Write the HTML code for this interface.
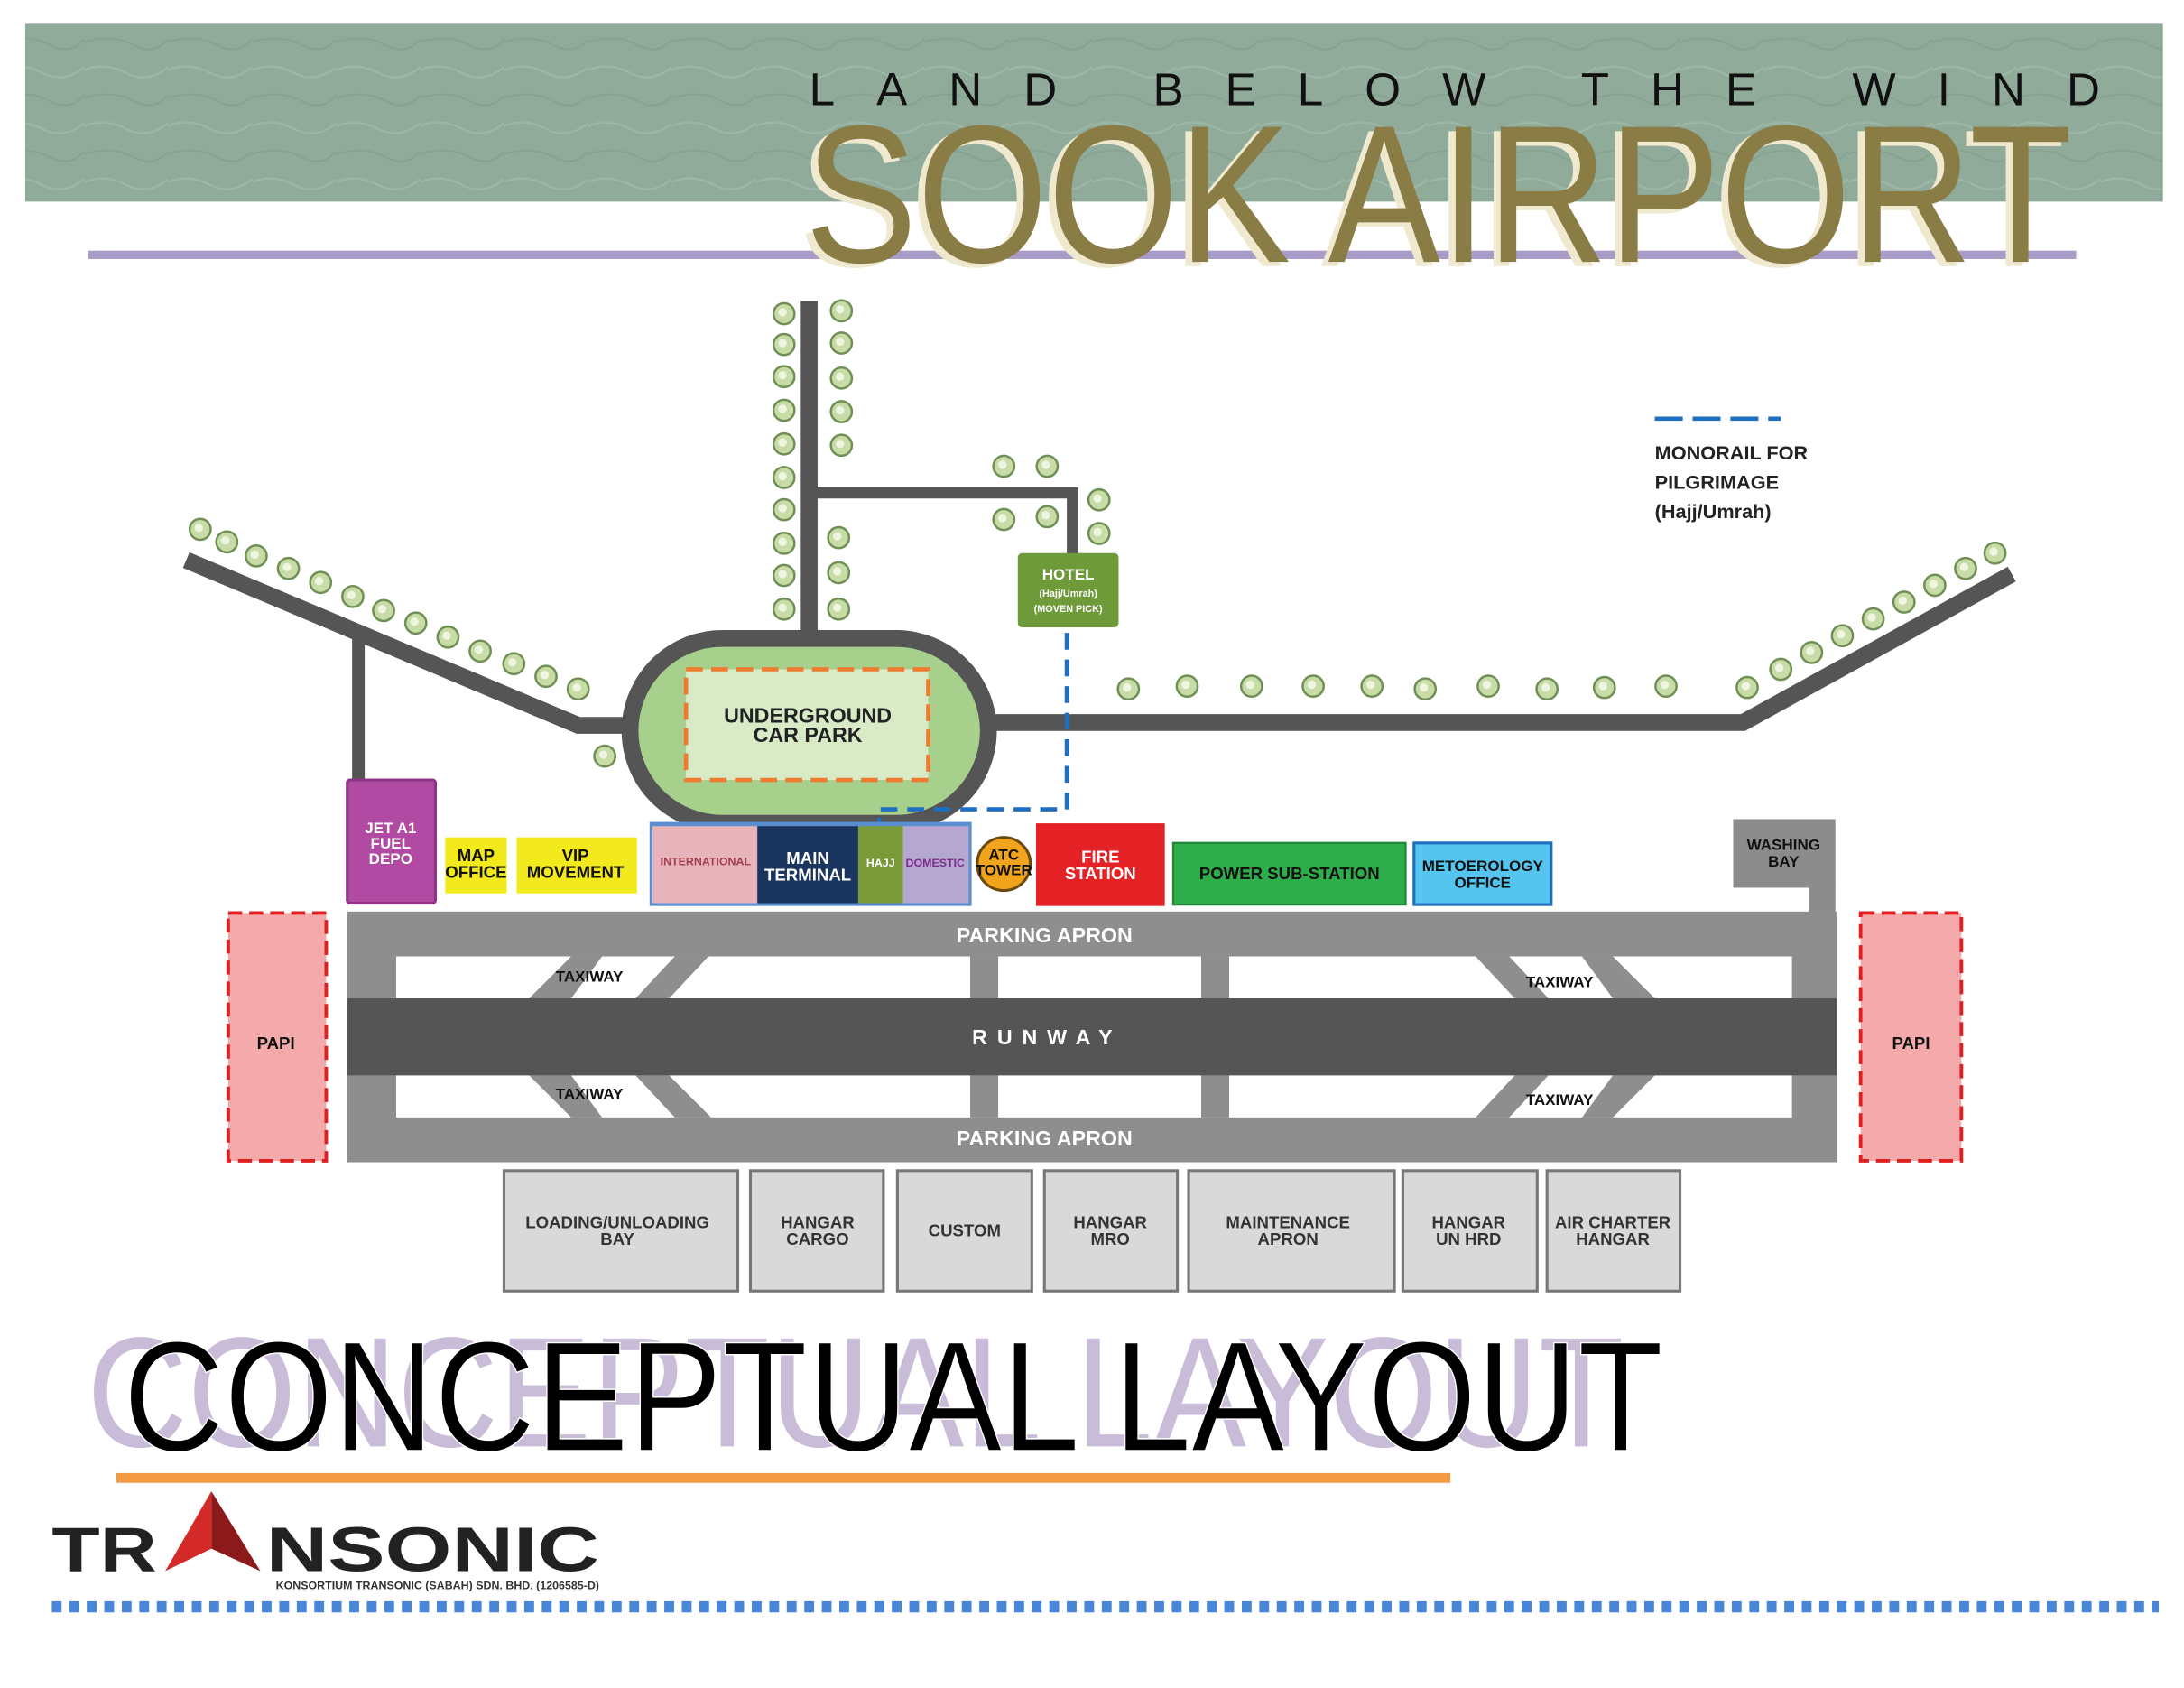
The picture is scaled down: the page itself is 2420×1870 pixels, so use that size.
<!DOCTYPE html>
<html><head><meta charset="utf-8"><style>
html,body{margin:0;padding:0;background:#fff;}
svg{display:block;}
text{font-family:"Liberation Sans",sans-serif;}
.b{font-weight:bold;}
</style></head><body>
<svg width="2420" height="1870" viewBox="0 0 1560 1205.5" preserveAspectRatio="none" xmlns="http://www.w3.org/2000/svg">
<defs>
<g id="tr"><circle r="7.5" fill="#c8dca8" stroke="#6f8f55" stroke-width="1.6"/><circle r="3" cx="-1" cy="-1" fill="#eef5e0"/></g>
<pattern id="tex" width="60" height="40" patternUnits="userSpaceOnUse">
<rect width="60" height="40" fill="#91ab9b"/>
<path d="M0 10 Q15 4 30 12 T60 8" stroke="#9db7a6" stroke-width="1.5" fill="none"/>
<path d="M0 30 Q20 24 35 32 T60 28" stroke="#88a292" stroke-width="1.2" fill="none"/>
</pattern>
</defs>

<!-- header -->
<rect x="18" y="17" width="1527" height="127" fill="url(#tex)"/>
<text x="578" y="75" font-size="33" fill="#111" textLength="922" lengthAdjust="spacing">LAND BELOW THE WIND</text>
<rect x="63" y="179" width="1420" height="6" fill="#a99cc8"/>
<text x="570" y="190" font-size="140" fill="#efe9cf" textLength="905" lengthAdjust="spacingAndGlyphs">SOOK AIRPORT</text>
<text x="575" y="187" font-size="140" fill="#8a7c45" textLength="905" lengthAdjust="spacingAndGlyphs">SOOK AIRPORT</text>

<!-- roads -->
<g stroke="#555" stroke-width="12" fill="none">
<line x1="578" y1="215" x2="578" y2="462"/>
<polyline points="578,352 766,352 766,397" stroke-width="8"/>
<polyline points="133,400 413,518 460,518"/>
<line x1="256" y1="455" x2="256" y2="560" stroke-width="9"/>
<polyline points="700,516 1245,516 1437,410"/>
</g>
<!-- trees -->
<g>
<use href="#tr" x="560" y="224"/><use href="#tr" x="560" y="246"/><use href="#tr" x="560" y="269"/><use href="#tr" x="560" y="293"/><use href="#tr" x="560" y="317"/><use href="#tr" x="560" y="341"/><use href="#tr" x="560" y="364"/><use href="#tr" x="560" y="388"/><use href="#tr" x="560" y="411"/><use href="#tr" x="560" y="435"/>
<use href="#tr" x="601" y="222"/><use href="#tr" x="601" y="245"/><use href="#tr" x="601" y="270"/><use href="#tr" x="601" y="294"/><use href="#tr" x="601" y="318"/><use href="#tr" x="599" y="384"/><use href="#tr" x="599" y="409"/><use href="#tr" x="599" y="435"/>
<use href="#tr" x="717" y="333"/><use href="#tr" x="748" y="333"/><use href="#tr" x="785" y="357"/><use href="#tr" x="785" y="381"/><use href="#tr" x="717" y="371"/><use href="#tr" x="748" y="369"/>
<use href="#tr" x="143" y="378"/><use href="#tr" x="162" y="387"/><use href="#tr" x="183" y="397"/><use href="#tr" x="206" y="406"/><use href="#tr" x="229" y="416"/><use href="#tr" x="252" y="426"/><use href="#tr" x="274" y="436"/><use href="#tr" x="297" y="445"/><use href="#tr" x="320" y="455"/><use href="#tr" x="343" y="465"/><use href="#tr" x="367" y="474"/><use href="#tr" x="390" y="483"/><use href="#tr" x="413" y="492"/>
<use href="#tr" x="432" y="540"/>
<use href="#tr" x="806" y="492"/><use href="#tr" x="848" y="490"/><use href="#tr" x="894" y="490"/><use href="#tr" x="938" y="490"/><use href="#tr" x="980" y="490"/><use href="#tr" x="1018" y="492"/><use href="#tr" x="1063" y="490"/><use href="#tr" x="1105" y="492"/><use href="#tr" x="1146" y="491"/><use href="#tr" x="1190" y="490"/>
<use href="#tr" x="1248" y="491"/><use href="#tr" x="1272" y="478"/><use href="#tr" x="1294" y="466"/><use href="#tr" x="1316" y="454"/><use href="#tr" x="1338" y="442"/><use href="#tr" x="1360" y="430"/><use href="#tr" x="1382" y="418"/><use href="#tr" x="1404" y="406"/><use href="#tr" x="1425" y="395"/>
</g>

<!-- hotel -->
<rect x="727" y="395" width="72" height="53" rx="3" fill="#6f9a3a"/>
<text x="763" y="414" font-size="11" fill="#fff" class="b" text-anchor="middle">HOTEL</text>
<text x="763" y="426" font-size="7" fill="#fff" class="b" text-anchor="middle">(Hajj/Umrah)</text>
<text x="763" y="437" font-size="7" fill="#fff" class="b" text-anchor="middle">(MOVEN PICK)</text>

<!-- oval car park -->
<rect x="450" y="456" width="256" height="132" rx="66" fill="#a7d08c" stroke="#555" stroke-width="12"/>
<rect x="490" y="478" width="173" height="79" fill="#d8ebc6" stroke="#ee7b2f" stroke-width="3" stroke-dasharray="12 6"/>
<text x="577" y="516" font-size="15" class="b" fill="#222" text-anchor="middle">UNDERGROUND</text>
<text x="577" y="530" font-size="15" class="b" fill="#222" text-anchor="middle">CAR PARK</text>

<!-- monorail -->
<polyline points="762,452 762,578 628,578 628,598" fill="none" stroke="#1e6fc0" stroke-width="3" stroke-dasharray="12 7"/>
<line x1="1182" y1="299" x2="1272" y2="299" stroke="#1e6fc0" stroke-width="3" stroke-dasharray="20 7"/>
<text x="1182" y="328" font-size="14" class="b" fill="#222">MONORAIL FOR</text>
<text x="1182" y="349" font-size="14" class="b" fill="#222">PILGRIMAGE</text>
<text x="1182" y="370" font-size="14" class="b" fill="#222">(Hajj/Umrah)</text>

<!-- buildings row -->
<rect x="248" y="557" width="63" height="88" rx="2" fill="#b04aa2" stroke="#8d3582" stroke-width="2"/>
<g font-size="11" class="b" fill="#fff" text-anchor="middle"><text x="279" y="595">JET A1</text><text x="279" y="606">FUEL</text><text x="279" y="617">DEPO</text></g>
<rect x="318" y="598" width="44" height="40" fill="#f2ea1c"/>
<rect x="369" y="598" width="86" height="40" fill="#f2ea1c"/>
<g font-size="12" class="b" fill="#111" text-anchor="middle"><text x="340" y="615">MAP</text><text x="340" y="627">OFFICE</text><text x="411" y="615">VIP</text><text x="411" y="627">MOVEMENT</text></g>
<rect x="464" y="587" width="230" height="60" fill="#5b8ed0"/>
<rect x="466" y="590" width="75" height="55" fill="#e8b4bc"/>
<rect x="541" y="590" width="72" height="55" fill="#1a3560"/>
<rect x="613" y="590" width="32" height="55" fill="#7a9a3a"/>
<rect x="645" y="590" width="47" height="55" fill="#b5a8d0"/>
<text x="504" y="618" font-size="8" class="b" fill="#a0404c" text-anchor="middle">INTERNATIONAL</text>
<text x="577" y="617" font-size="12" class="b" fill="#fff" text-anchor="middle">MAIN</text>
<text x="577" y="629" font-size="12" class="b" fill="#fff" text-anchor="middle">TERMINAL</text>
<text x="629" y="619" font-size="8" class="b" fill="#fff" text-anchor="middle">HAJJ</text>
<text x="668" y="619" font-size="8" class="b" fill="#7a2d8c" text-anchor="middle">DOMESTIC</text>
<circle cx="717" cy="617" r="19" fill="#f2a51c" stroke="#6b4a10" stroke-width="2"/>
<text x="717" y="614" font-size="11" class="b" fill="#111" text-anchor="middle">ATC</text>
<text x="717" y="625" font-size="11" class="b" fill="#111" text-anchor="middle">TOWER</text>
<rect x="740" y="588" width="92" height="59" fill="#e42124"/>
<text x="786" y="616" font-size="12" class="b" fill="#fff" text-anchor="middle">FIRE</text>
<text x="786" y="628" font-size="12" class="b" fill="#fff" text-anchor="middle">STATION</text>
<rect x="838" y="602" width="166" height="44" fill="#2eae4a" stroke="#1e8a36" stroke-width="1.5"/>
<text x="921" y="628" font-size="12" class="b" fill="#111" text-anchor="middle">POWER SUB-STATION</text>
<rect x="1010" y="602" width="98" height="44" fill="#55c4ee" stroke="#1e6fc0" stroke-width="2"/>
<text x="1059" y="622" font-size="11" class="b" fill="#111" text-anchor="middle">METOEROLOGY</text>
<text x="1059" y="634" font-size="11" class="b" fill="#111" text-anchor="middle">OFFICE</text>
<rect x="1238" y="585" width="73" height="49" fill="#8c8c8c"/>
<text x="1274" y="607" font-size="11" class="b" fill="#111" text-anchor="middle">WASHING</text>
<text x="1274" y="619" font-size="11" class="b" fill="#111" text-anchor="middle">BAY</text>
<rect x="1292" y="630" width="19" height="25" fill="#8c8c8c"/>

<!-- apron / runway -->
<rect x="248" y="651" width="1064" height="179" fill="#8e8e8e"/>
<rect x="283" y="683" width="997" height="30" fill="#fff"/>
<rect x="283" y="768" width="997" height="30" fill="#fff"/>
<rect x="693" y="683" width="20" height="115" fill="#8e8e8e"/>
<rect x="858" y="683" width="20" height="115" fill="#8e8e8e"/>
<g fill="#8e8e8e">
<polygon points="408,683 430,683 408,713 378,713"/>
<polygon points="482,683 506,683 478,713 454,713"/>
<polygon points="378,768 408,768 430,798 408,798"/>
<polygon points="454,768 478,768 508,798 482,798"/>
<polygon points="1130,683 1152,683 1182,713 1152,713"/>
<polygon points="1054,683 1078,683 1106,713 1082,713"/>
<polygon points="1152,768 1182,768 1152,798 1130,798"/>
<polygon points="1082,768 1106,768 1078,798 1054,798"/>
</g>
<rect x="248" y="713" width="1064" height="55" fill="#555"/>
<text x="746" y="673" font-size="15" class="b" fill="#fff" text-anchor="middle">PARKING APRON</text>
<text x="746" y="818" font-size="15" class="b" fill="#fff" text-anchor="middle">PARKING APRON</text>
<text x="748" y="746" font-size="15" class="b" fill="#fff" text-anchor="middle" letter-spacing="7">RUNWAY</text>
<g font-size="11" class="b" fill="#111" text-anchor="middle">
<text x="421" y="701">TAXIWAY</text><text x="421" y="785">TAXIWAY</text>
<text x="1114" y="705">TAXIWAY</text><text x="1114" y="789">TAXIWAY</text>
</g>

<!-- PAPI -->
<rect x="163" y="652" width="70" height="177" fill="#f4aaaa" stroke="#e02020" stroke-width="2.5" stroke-dasharray="10 5"/>
<rect x="1329" y="652" width="72" height="177" fill="#f4aaaa" stroke="#e02020" stroke-width="2.5" stroke-dasharray="10 5"/>
<text x="197" y="749" font-size="12" class="b" fill="#111" text-anchor="middle">PAPI</text>
<text x="1365" y="749" font-size="12" class="b" fill="#111" text-anchor="middle">PAPI</text>

<!-- hangars -->
<g fill="#d9d9d9" stroke="#777" stroke-width="2">
<rect x="360" y="836" width="167" height="86"/><rect x="536" y="836" width="95" height="86"/><rect x="641" y="836" width="96" height="86"/><rect x="746" y="836" width="95" height="86"/><rect x="849" y="836" width="147" height="86"/><rect x="1002" y="836" width="96" height="86"/><rect x="1105" y="836" width="95" height="86"/>
</g>
<g font-size="12" class="b" fill="#333" text-anchor="middle">
<text x="441" y="877">LOADING/UNLOADING</text><text x="441" y="889">BAY</text>
<text x="584" y="877">HANGAR</text><text x="584" y="889">CARGO</text>
<text x="689" y="883">CUSTOM</text>
<text x="793" y="877">HANGAR</text><text x="793" y="889">MRO</text>
<text x="920" y="877">MAINTENANCE</text><text x="920" y="889">APRON</text>
<text x="1049" y="877">HANGAR</text><text x="1049" y="889">UN HRD</text>
<text x="1152" y="877">AIR CHARTER</text><text x="1152" y="889">HANGAR</text>
</g>

<!-- conceptual layout -->
<text x="62" y="1033" font-size="112" fill="#c8bcd8" textLength="1098" lengthAdjust="spacingAndGlyphs">CONCEPTUAL LAYOUT</text>
<text x="88" y="1036" font-size="112" fill="#000" stroke="#fff" stroke-width="1" textLength="1100" lengthAdjust="spacingAndGlyphs">CONCEPTUAL LAYOUT</text>
<rect x="83" y="1052" width="953" height="7" fill="#f39a45"/>

<!-- logo -->
<text x="37" y="1122" font-size="45" font-weight="900" class="b" fill="#222" textLength="75" lengthAdjust="spacingAndGlyphs">TR</text>
<polygon points="151,1065 118,1122 151,1106" fill="#d42a2a"/>
<polygon points="151,1065 151,1106 186,1122" fill="#8c1a1a"/>
<text x="190" y="1122" font-size="45" class="b" fill="#222" textLength="238" lengthAdjust="spacingAndGlyphs">NSONIC</text>
<text x="197" y="1135" font-size="7.5" class="b" fill="#333" textLength="231" lengthAdjust="spacingAndGlyphs">KONSORTIUM TRANSONIC (SABAH) SDN. BHD. (1206585-D)</text>
<line x1="37" y1="1147.5" x2="1542" y2="1147.5" stroke="#4a86d8" stroke-width="8" stroke-dasharray="7 5.5"/>
</svg>
</body></html>
